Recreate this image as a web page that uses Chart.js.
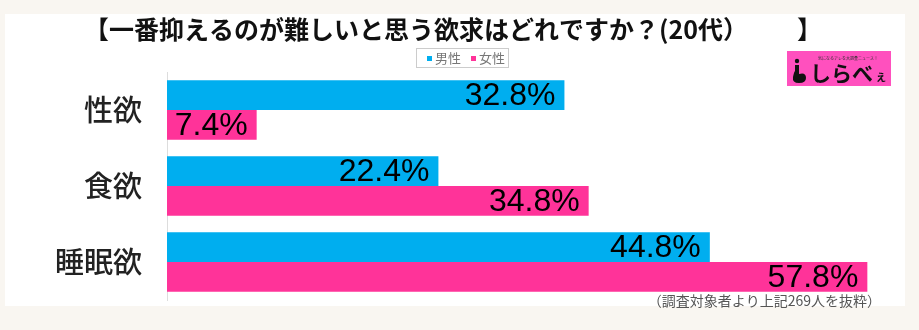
<!DOCTYPE html>
<html><head><meta charset="utf-8">
<script src="https://cdn.jsdelivr.net/npm/chart.js@4/dist/chart.umd.min.js"></script>
<style>html,body{margin:0;padding:0;background:#f9f6f1;}canvas{display:block;}</style>
</head><body>
<canvas id="c" width="919" height="330"></canvas>
<script>
const titleText = "【一番抑えるのが難しいと思う欲求はどれですか？(20代）　　  】";
const categories = ["性欲", "食欲", "睡眠欲"];
const seriesNames = ["男性", "女性"];
const maleValues = [32.8, 22.4, 44.8];
const femaleValues = [7.4, 34.8, 57.8];
const noteText = "（調査対象者より上記269人を抜粋）";
const logoText = "しらべ";
const logoSmall = "ぇ";
const logoCaption = "気になるアレを大調査ニュース！";

const BLUE = "#00aeef", PINK = "#ff3399";
const JP = '"Noto Sans CJK JP", "Noto Sans", sans-serif';

const decor = {
  id: "decor",
  beforeDraw(chart) {
    const ctx = chart.ctx;
    ctx.save();
    ctx.fillStyle = "#f9f6f1";
    ctx.fillRect(0, 0, chart.width, chart.height);
    ctx.fillStyle = "#ffffff";
    ctx.fillRect(5, 14, 900, 292);
    ctx.restore();
  },
  afterDraw(chart) {
    const ctx = chart.ctx;
    ctx.save();
    // title
    ctx.fillStyle = "#111";
    ctx.font = "bold 25px " + JP;
    ctx.textAlign = "center";
    ctx.textBaseline = "middle";
    ctx.fillText(titleText, 453, 29);
    // legend
    ctx.strokeStyle = "#cccccc";
    ctx.lineWidth = 1;
    ctx.strokeRect(416.5, 48.5, 92, 19);
    ctx.font = "13px " + JP;
    ctx.textAlign = "left";
    const colors = [BLUE, PINK];
    const xs = [427, 471];
    seriesNames.forEach((n, i) => {
      ctx.fillStyle = colors[i];
      ctx.fillRect(xs[i], 56, 5, 5);
      ctx.fillStyle = "#777";
      ctx.fillText(n, xs[i] + 8, 58.5);
    });
    // logo
    ctx.fillStyle = "#ff50be";
    ctx.fillRect(787, 51, 104, 35);
    ctx.fillStyle = "#333";
    ctx.font = "4px " + JP;
    ctx.fillText(logoCaption, 818, 58);
    ctx.fillStyle = "#111";
    ctx.beginPath(); ctx.arc(797, 61, 2.2, 0, Math.PI * 2); ctx.fill();
    ctx.beginPath();
    ctx.moveTo(795, 65); ctx.lineTo(799, 65); ctx.lineTo(799, 74);
    ctx.quadraticCurveTo(806, 72, 806, 78);
    ctx.quadraticCurveTo(806, 83, 799, 83);
    ctx.quadraticCurveTo(792, 83, 793, 77);
    ctx.quadraticCurveTo(794, 72, 795, 71);
    ctx.closePath(); ctx.fill();
    ctx.font = "bold 21px " + JP;
    ctx.textBaseline = "alphabetic";
    ctx.fillText(logoText, 810, 81);
    ctx.font = "bold 12px " + JP;
    ctx.fillText(logoSmall, 875, 81);
    // note
    ctx.fillStyle = "#555";
    ctx.font = "14px " + JP;
    ctx.textAlign = "right";
    ctx.textBaseline = "middle";
    ctx.fillText(noteText, 881, 301);
    // value labels
    ctx.fillStyle = "#000";
    ctx.font = '32px "Liberation Sans", Arial, sans-serif';
    ctx.textAlign = "right";
    ctx.textBaseline = "middle";
    chart.data.datasets.forEach((ds, di) => {
      const meta = chart.getDatasetMeta(di);
      meta.data.forEach((bar, i) => {
        ctx.fillText(ds.data[i].toFixed(1) + "%", bar.x - 9, bar.y + 1);
      });
    });
    ctx.restore();
  }
};

new Chart(document.getElementById("c"), {
  type: "bar",
  data: {
    labels: categories,
    datasets: [
      { label: seriesNames[0], data: maleValues, backgroundColor: BLUE },
      { label: seriesNames[1], data: femaleValues, backgroundColor: PINK }
    ]
  },
  options: {
    indexAxis: "y",
    responsive: false,
    devicePixelRatio: 1,
    animation: false,
    categoryPercentage: 0.78,
    barPercentage: 1,
    layout: { padding: { top: 72, bottom: 30, right: 25, left: 0 } },
    plugins: { legend: { display: false }, title: { display: false }, tooltip: { enabled: false } },
    scales: {
      x: { display: false, min: 0, max: 60 },
      y: {
        afterFit(scale) { scale.width = 167; },
        grid: { display: false, drawTicks: false },
        border: { display: true, color: "#dddddd", width: 1 },
        ticks: { color: "#222", padding: 25, font: { family: JP, size: 29, weight: "500", lineHeight: 0.1 } }
      }
    }
  },
  plugins: [decor]
});
</script>
</body></html>
